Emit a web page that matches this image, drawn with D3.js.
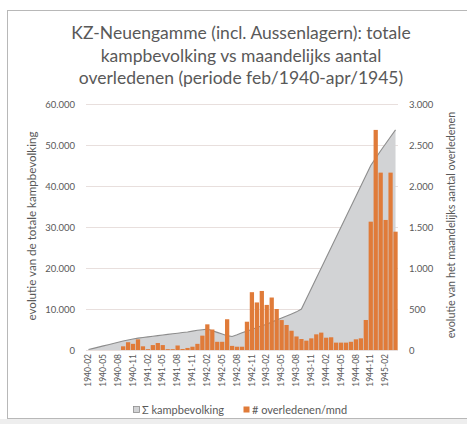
<!DOCTYPE html>
<html>
<head>
<meta charset="utf-8">
<script src="https://cdn.jsdelivr.net/npm/d3@7"></script>
<style>
  html, body { margin: 0; padding: 0; background: #ffffff; }
  svg { display: block; }
</style>
</head>
<body>
<div id="chart"></div>
<script>
// maanden feb/1940 - apr/1945
const months = [
  "1940-02","1940-03","1940-04","1940-05","1940-06","1940-07","1940-08","1940-09","1940-10","1940-11","1940-12",
  "1941-01","1941-02","1941-03","1941-04","1941-05","1941-06","1941-07","1941-08","1941-09","1941-10","1941-11","1941-12",
  "1942-01","1942-02","1942-03","1942-04","1942-05","1942-06","1942-07","1942-08","1942-09","1942-10","1942-11","1942-12",
  "1943-01","1943-02","1943-03","1943-04","1943-05","1943-06","1943-07","1943-08","1943-09","1943-10","1943-11","1943-12",
  "1944-01","1944-02","1944-03","1944-04","1944-05","1944-06","1944-07","1944-08","1944-09","1944-10","1944-11","1944-12",
  "1945-01","1945-02","1945-03","1945-04"
];

// totale kampbevolking (linker as)
const population = [
  100, 400, 700, 1000, 1300, 1600, 1900, 2200, 2450, 2700, 2900,
  3050, 3200, 3350, 3500, 3650, 3800, 3950, 4100, 4250, 4400, 4600, 4800,
  4950, 5100, 4700, 4300, 3900, 3500, 3300, 3700, 4200, 4600, 5000, 5500,
  5900, 6300, 6800, 7300, 7800, 8300, 8800, 9300, 10000, 12500, 15000, 17500,
  20000, 22500, 25000, 27500, 30000, 32500, 35000, 37500, 40000, 42500, 45000, 46800,
  48600, 50300, 52000, 53700
];

// overledenen per maand (rechter as)
const deaths = [
  0, 0, 0, 0, 0, 0, 0, 45, 95, 75, 130,
  45, 10, 60, 85, 60, 10, 10, 55, 12, 25, 40, 75,
  175, 313, 250, 100, 100, 375, 50, 40, 40, 345, 705, 580,
  720, 550, 640, 500, 365, 305, 235, 165, 134, 114, 142, 191,
  212, 150, 155, 90, 90, 90, 100, 130, 142, 366, 1565, 2684,
  2163, 1586, 2163, 1443
];

const leftTicks = [0, 10000, 20000, 30000, 40000, 50000, 60000];
const rightTicks = [0, 500, 1000, 1500, 2000, 2500, 3000];

const width = 467;
const height = 424;
const textColor = "#595959";
const font = "Lato, 'Open Sans', sans-serif";

const nl = d3.formatLocale({decimal: ",", thousands: ".", grouping: [3], currency: ["", ""]});
const fmt = nl.format(",d");

const svg = d3.select("#chart").append("svg")
    .attr("width", width)
    .attr("height", height)
    .attr("font-family", font);

// kader + grijze onderrand
svg.append("rect")
    .attr("x", 0).attr("y", 419).attr("width", width).attr("height", 5)
    .attr("fill", "#eeeeee");
svg.append("rect")
    .attr("x", 7.5).attr("y", 10.5).attr("width", width).attr("height", 408)
    .attr("fill", "#ffffff")
    .attr("stroke", "#b8b8b8");

// titel
const title = [
  "KZ-Neuengamme (incl. Aussenlagern): totale",
  "kampbevolking vs maandelijks aantal",
  "overledenen (periode feb/1940-apr/1945)"
];
svg.append("text")
    .attr("text-anchor", "middle")
    .attr("fill", textColor)
    .attr("font-size", 17.5)
  .selectAll("tspan")
  .data(title)
  .join("tspan")
    .attr("x", 241)
    .attr("y", (d, i) => 39 + i * 22.5)
    .text(d => d);

// schalen
const x = d3.scaleBand()
    .domain(months)
    .range([86, 398])
    .paddingInner(0.14)
    .paddingOuter(0.07);

const yLeft = d3.scaleLinear().domain([0, 60000]).range([350, 104]);
const yRight = d3.scaleLinear().domain([0, 3000]).range([350, 104]);

// rasterlijnen
svg.append("g")
  .selectAll("line")
  .data(leftTicks)
  .join("line")
    .attr("x1", 86).attr("x2", 398)
    .attr("y1", d => yLeft(d) + 0.5).attr("y2", d => yLeft(d) + 0.5)
    .attr("stroke", "#e8dfdd")
    .attr("stroke-width", 1.2);

// kampbevolking als vlak
const cx = d => x(d) + x.bandwidth() / 2;
const area = d3.area()
    .x((d, i) => cx(months[i]))
    .y0(yLeft(0))
    .y1(d => yLeft(d));
const line = d3.line()
    .x((d, i) => cx(months[i]))
    .y(d => yLeft(d));

svg.append("path")
    .datum(population)
    .attr("d", area)
    .attr("fill", "#d2d3d5");
svg.append("path")
    .datum(population)
    .attr("d", line)
    .attr("fill", "none")
    .attr("stroke", "#8d8d8d")
    .attr("stroke-width", 1.1);

// overledenen als staven
svg.append("g")
  .selectAll("rect")
  .data(deaths)
  .join("rect")
    .attr("x", (d, i) => x(months[i]))
    .attr("width", x.bandwidth())
    .attr("y", d => yRight(d))
    .attr("height", d => yRight(0) - yRight(d))
    .attr("fill", "#e07b39");

// assen
const axisLeft = d3.axisLeft(yLeft).tickValues(leftTicks).tickFormat(fmt).tickSize(0).tickPadding(0);
const axisRight = d3.axisRight(yRight).tickValues(rightTicks).tickFormat(fmt).tickSize(0).tickPadding(0);

const gl = svg.append("g").attr("transform", "translate(75,0)").call(axisLeft);
const gr = svg.append("g").attr("transform", "translate(409,0)").call(axisRight);
[gl, gr].forEach(g => {
  g.select(".domain").remove();
  g.selectAll("text")
      .attr("fill", textColor)
      .attr("font-size", 9.5)
      .attr("font-family", font);
});

// x-as labels, elke derde maand
const xTicks = months.filter((d, i) => i % 3 === 0);
const axisBottom = d3.axisBottom(x).tickValues(xTicks).tickSize(0).tickPadding(0);
const gx = svg.append("g").attr("transform", "translate(0,354)").call(axisBottom);
gx.select(".domain").remove();
gx.selectAll("text")
    .attr("fill", textColor)
    .attr("font-size", 8.5)
    .attr("font-family", font)
    .attr("text-anchor", "end")
    .attr("dy", "0.32em")
    .attr("transform", "rotate(-90)")
    .attr("x", 0)
    .attr("y", 0);

// as-titels
svg.append("text")
    .attr("transform", "translate(36,226) rotate(-90)")
    .attr("text-anchor", "middle")
    .attr("fill", textColor)
    .attr("font-size", 11.6)
    .text("evolutie van de totale kampbevolking");
svg.append("text")
    .attr("transform", "translate(455,225) rotate(-90)")
    .attr("text-anchor", "middle")
    .attr("fill", textColor)
    .attr("font-size", 10.8)
    .text("evolutie van het maandelijks aantal overledenen");

// legenda
const legend = [
  {label: "Σ kampbevolking", fill: "#d2d3d5", stroke: "#8d8d8d", x: 133},
  {label: "# overledenen/mnd", fill: "#e07b39", stroke: "none", x: 243}
];
const lg = svg.append("g")
  .selectAll("g")
  .data(legend)
  .join("g")
    .attr("transform", d => `translate(${d.x},406)`);
lg.append("rect")
    .attr("x", 0.5).attr("y", 0.5)
    .attr("width", 6).attr("height", 6)
    .attr("fill", d => d.fill)
    .attr("stroke", d => d.stroke)
    .attr("stroke-width", 0.8);
lg.append("text")
    .attr("x", 9)
    .attr("y", 7.5)
    .attr("fill", textColor)
    .attr("font-size", 11)
    .text(d => d.label);
</script>
</body>
</html>
